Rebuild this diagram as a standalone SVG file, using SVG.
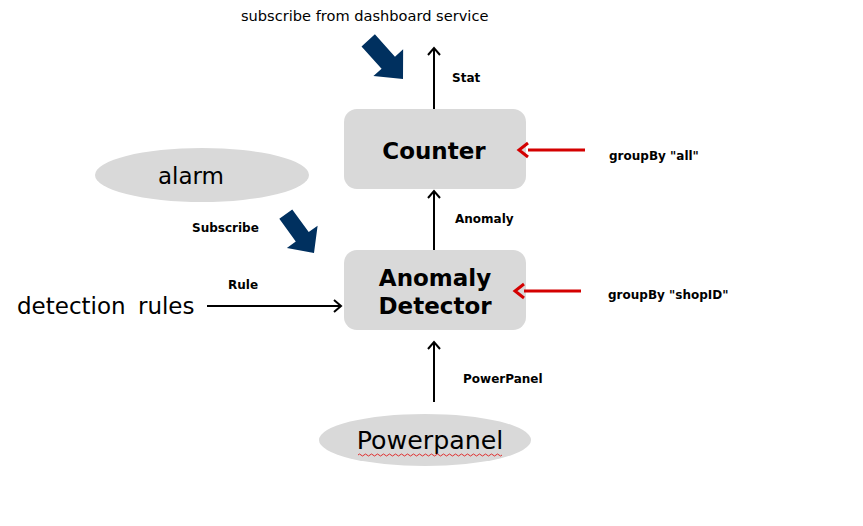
<svg xmlns="http://www.w3.org/2000/svg" width="863" height="526" viewBox="0 0 863 526">
<defs>
<marker id="ah" markerUnits="userSpaceOnUse" markerWidth="14" markerHeight="14" refX="11" refY="7" orient="auto">
<path d="M4,1 L11,7 L4,13" fill="none" stroke="#000" stroke-width="2"/>
</marker>
<marker id="ahr" markerUnits="userSpaceOnUse" markerWidth="16" markerHeight="18" refX="2" refY="9" orient="auto">
<path d="M11,2 L2,9 L11,16" fill="none" stroke="#d40000" stroke-width="3" transform="rotate(180 6.5 9)"/>
</marker>
<style>
.box{fill:#d9d9d9}
.ell{fill:#d9d9d9}
.big{font-family:"DejaVu Sans",Verdana,sans-serif;font-weight:bold;font-size:23px;fill:#000}
.reg{font-family:"DejaVu Sans",Verdana,sans-serif;fill:#000}
.lab{font-family:"DejaVu Sans",Verdana,sans-serif;font-weight:bold;font-size:12px;fill:#000}
.conn{stroke:#000;stroke-width:2;fill:none}
.red{stroke:#d40000;stroke-width:3;fill:none}
.blue{fill:#00305f}
</style>
</defs>
<rect width="863" height="526" fill="#fff"/>
<text x="241" y="21" font-family="'DejaVu Sans',Verdana,sans-serif" font-size="14.6" fill="#000">subscribe from dashboard service</text>
<g id="counter">
<rect class="box" x="344" y="109" width="182" height="80" rx="13"/>
<text class="big" x="434" y="159" text-anchor="middle">Counter</text>
</g>
<g id="detector">
<rect class="box" x="344" y="250" width="182" height="80" rx="13"/>
<text class="big" x="435" y="286" text-anchor="middle">Anomaly</text>
<text class="big" x="435" y="314" text-anchor="middle">Detector</text>
</g>
<g id="alarm">
<ellipse class="ell" cx="202" cy="175" rx="107" ry="27"/>
<text class="reg" x="191" y="184" text-anchor="middle" font-size="23">alarm</text>
</g>
<g id="rules">
<text class="reg" x="17" y="314" font-size="23" word-spacing="5">detection rules</text>
</g>
<g id="powerpanel">
<ellipse class="ell" cx="425" cy="440" rx="106" ry="26"/>
<text class="reg" x="430" y="449" text-anchor="middle" font-size="25.3">Powerpanel</text>
<path d="M358,455 q1.5,-2 3,0 t3,0 t3,0 t3,0 t3,0 t3,0 t3,0 t3,0 t3,0 t3,0 t3,0 t3,0 t3,0 t3,0 t3,0 t3,0 t3,0 t3,0 t3,0 t3,0 t3,0 t3,0 t3,0 t3,0 t3,0 t3,0 t3,0 t3,0 t3,0 t3,0 t3,0 t3,0 t3,0 t3,0 t3,0 t3,0 t3,0 t3,0 t3,0 t3,0 t3,0 t3,0 t3,0 t3,0 t3,0 t3,0 t3,0 t3,0" fill="none" stroke="#e03030" stroke-width="1"/>
</g>
<g id="connectors">
<line class="conn" x1="434" y1="109" x2="434" y2="48" marker-end="url(#ah)"/>
<line class="conn" x1="434" y1="250" x2="434" y2="191" marker-end="url(#ah)"/>
<line class="conn" x1="434" y1="402" x2="434" y2="342" marker-end="url(#ah)"/>
<line class="conn" x1="207" y1="306" x2="341" y2="306" marker-end="url(#ah)"/>
<line class="red" x1="585" y1="150" x2="528" y2="150" marker-end="url(#ahr)"/>
<line class="red" x1="581" y1="291" x2="524" y2="291" marker-end="url(#ahr)"/>
<polygon class="blue" transform="translate(403,79) rotate(48)" points="-52,-9 -22,-9 -22,-20 0,0 -22,20 -22,9 -52,9"/>
<polygon class="blue" transform="translate(314,253) rotate(54)" points="-48,-8 -20,-8 -20,-19 0,0 -20,19 -20,8 -48,8"/>
<text class="lab" x="452" y="82">Stat</text>
<text class="lab" x="455" y="223">Anomaly</text>
<text class="lab" x="463" y="383">PowerPanel</text>
<text class="lab" x="192" y="232">Subscribe</text>
<text class="lab" x="228" y="289">Rule</text>
<text class="lab" x="609" y="160">groupBy "all"</text>
<text class="lab" x="608" y="299">groupBy "shopID"</text>
</g>
</svg>
